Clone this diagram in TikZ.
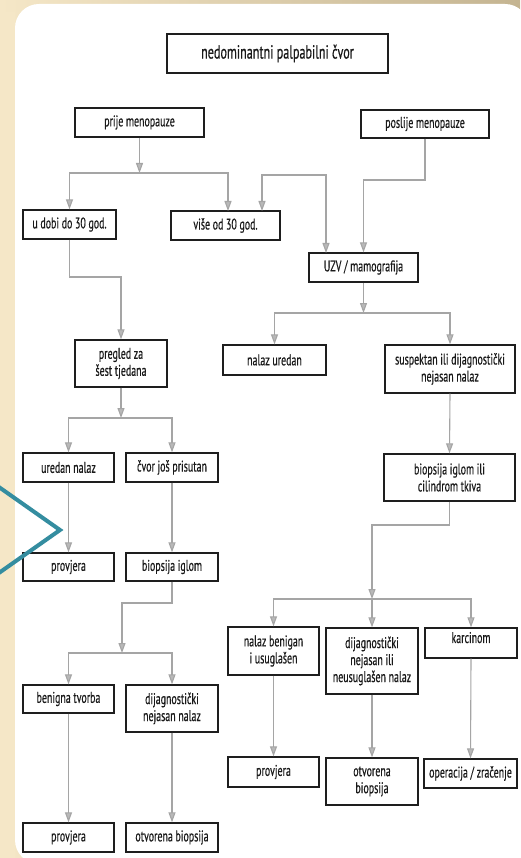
\documentclass[tikz,border=0pt]{standalone}
\usepackage{fontspec}
\setmainfont[FakeStretch=0.64, FakeBold=0.4]{PT Sans}
\usetikzlibrary{arrows.meta}

\definecolor{pagebgL}{RGB}{245,231,199}
\definecolor{pagebgR}{RGB}{196,180,145}
\definecolor{linkgray}{RGB}{165,165,165}
\definecolor{tipgray}{RGB}{185,185,185}
\definecolor{boxline}{RGB}{30,30,30}
\definecolor{chevron}{RGB}{52,141,160}

\tikzset{
  box/.style={draw=boxline, line width=1.3pt, fill=white, align=center,
    inner xsep=1pt, inner ysep=2pt, font=\fontsize{15.5}{17}\selectfont, text=black!90},
  titlebox/.style={box, font=\fontsize{19}{21}\selectfont},
  link/.style={draw=linkgray, line width=1.1pt},
  arr/.style={link, -{Triangle[length=10pt,width=7pt,fill=tipgray]}},
  twoarr/.style={link, {Triangle[length=10pt,width=7pt,fill=tipgray]}-{Triangle[length=10pt,width=7pt,fill=tipgray]}},
}

\begin{document}
\begin{tikzpicture}[x=1pt, y=-1pt]
\useasboundingbox (0,0) rectangle (520,858);

% page background and white panel
\shade[left color=pagebgL, right color=pagebgR] (0,0) rectangle (520,858);
\fill[pagebgL] (0,12) rectangle (15,858);
\fill[white, rounded corners=24pt] (15,4) rectangle (529,864);

% boxes
\node[titlebox, minimum width=221, minimum height=39] (title) at (277.5,53.5) {nedominantni palpabilni čvor};
\node[box, minimum width=129, minimum height=29] (prije) at (139.5,122.5) {prije menopauze};
\node[box, minimum width=128, minimum height=28] (poslije) at (425,124) {poslije menopauze};
\node[box, minimum width=93, minimum height=29] (udobi) at (69.5,224.5) {u dobi do 30 god.};
\node[box, minimum width=109, minimum height=29] (vise) at (225.5,225.5) {više od 30 god.};
\node[box, minimum width=109, minimum height=29] (uzv) at (363.5,267.5) {UZV / mamografija};
\node[box, minimum width=92, minimum height=47] (pregled) at (121,363.5) {pregled za\\šest tjedana};
\node[box, minimum width=103, minimum height=30] (nalazuredan) at (274.5,360) {nalaz uredan};
\node[box, minimum width=130, minimum height=48] (suspektan) at (450,369) {suspektan ili dijagnostički\\nejasan nalaz};
\node[box, minimum width=131, minimum height=47] (biopsijacil) at (449.5,477.5) {biopsija iglom ili\\cilindrom tkiva};
\node[box, minimum width=91, minimum height=29] (uredannalaz) at (68.5,467.5) {uredan nalaz};
\node[box, minimum width=92, minimum height=29] (cvor) at (172,467.5) {čvor još prisutan};
\node[box, minimum width=91, minimum height=28] (provjeraA) at (68.5,567) {provjera};
\node[box, minimum width=92, minimum height=28] (biopsijaiglom) at (172,567) {biopsija iglom};
\node[box, minimum width=91, minimum height=28] (benigna) at (68.5,699) {benigna tvorba};
\node[box, minimum width=92, minimum height=47] (dijagL) at (172,708.5) {dijagnostički\\nejasan nalaz};
\node[box, minimum width=91, minimum height=29] (provjeraB) at (68.5,837.5) {provjera};
\node[box, minimum width=92, minimum height=29] (otvorenaL) at (172,837.5) {otvorena biopsija};
\node[box, minimum width=91, minimum height=48] (benigan) at (273.5,651) {nalaz benigan\\i usuglašen};
\node[box, minimum width=92, minimum height=66] (dijagR) at (372,661) {dijagnostički\\nejasan ili\\neusuglašen nalaz};
\node[box, minimum width=92, minimum height=30, text depth=11pt] (karcinom) at (471,643) {karcinom};
\node[box, minimum width=91, minimum height=30] (provjeraC) at (273.5,772) {provjera};
\node[box, minimum width=92, minimum height=47] (otvorenaR) at (372,781.5) {otvorena\\biopsija};
\node[box, minimum width=93, minimum height=29] (operacija) at (470.5,773.5) {operacija / zračenje};

% junctions and entry points
\coordinate (j1) at (139.5,173);
\coordinate (viseinA) at (228,211);
\coordinate (viseinB) at (262,211);
\coordinate (bmid) at (294,175);
\coordinate (uzvinA) at (326,253);
\coordinate (pmid) at (394,180);
\coordinate (umid) at (95,277);
\coordinate (j2) at (121,418);
\coordinate (bimid) at (147,603);
\coordinate (j3) at (122,653);
\coordinate (j4) at (363.5,313);
\coordinate (cmid) at (410,525);
\coordinate (j5) at (372,599);

% left branch
\draw[arr] (prije.south) -- (j1);
\draw[arr] (j1) -| (udobi.north);
\draw[arr] (j1) -| (viseinA);
\draw[twoarr] (viseinB) |- (bmid) -| (uzvinA);
\draw[arr] (udobi.south) |- (umid) -| (pregled.north);
\draw[arr] (pregled.south) -- (j2);
\draw[arr] (j2) -| (uredannalaz.north);
\draw[arr] (j2) -| (cvor.north);
\draw[arr] (uredannalaz.south) -- (provjeraA.north);
\draw[arr] (cvor.south) -- (biopsijaiglom.north);
\draw[arr] (biopsijaiglom.south) |- (bimid) -| (j3);
\draw[arr] (j3) -| (benigna.north);
\draw[arr] (j3) -| (dijagL.north);
\draw[arr] (benigna.south) -- (provjeraB.north);
\draw[arr] (dijagL.south) -- (otvorenaL.north);

% right branch
\draw[arr] (poslije.south) |- (pmid) -| (uzv.north);
\draw[arr] (uzv.south) -- (j4);
\draw[arr] (j4) -| (nalazuredan.north);
\draw[arr] (j4) -| (suspektan.north);
\draw[arr] (suspektan.south) -- (biopsijacil.north);
\draw[arr] (biopsijacil.south) |- (cmid) -| (j5);
\draw[arr] (j5) -| (benigan.north);
\draw[arr] (j5) -- (dijagR.north);
\draw[arr] (j5) -| (karcinom.north);
\draw[arr] (benigan.south) -- (provjeraC.north);
\draw[arr] (dijagR.south) -- (otvorenaR.north);
\draw[arr] (karcinom.south) -- (operacija.north);

% teal chevron on the left edge
\draw[chevron, line width=4pt, line join=miter] (-4,485) -- (60,530) -- (-4,575);
\end{tikzpicture}
\end{document}
